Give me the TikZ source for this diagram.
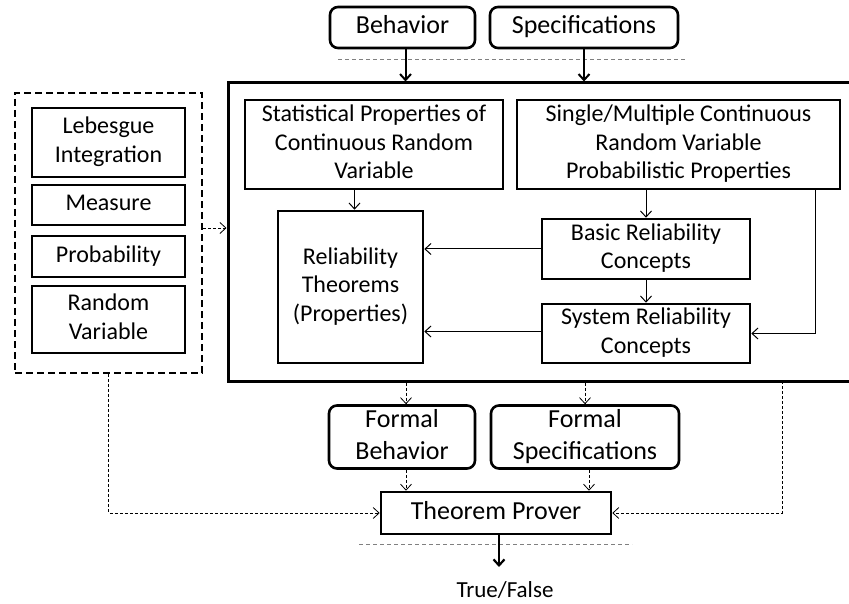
\documentclass[tikz,border=0pt]{standalone}
\usepackage{fontspec}
\setmainfont{Carlito}
\usetikzlibrary{arrows.meta}

\begin{document}
\begin{tikzpicture}[x=1pt, y=-1pt, >={Straight Barb[length=6pt,width=11pt]},
    blk/.style={draw, line width=2.6pt, align=center, inner sep=0pt, font=\fontsize{24}{28.5}\selectfont},
    rblk/.style={blk, rounded corners=8pt, font=\fontsize{26}{31.5}\selectfont},
    dsh/.style={line width=0.8pt, dash pattern=on 3pt off 2pt},
    sep/.style={gray, line width=1pt, dash pattern=on 4pt off 3pt}]
    \useasboundingbox (0,0) rectangle (849,604);

    % 输入
    \node[rblk, minimum width=145pt, minimum height=41pt] (beh) at (402.5,27.5) {\strut Behavior};
    \node[rblk, minimum width=188pt, minimum height=41pt] (spec) at (584,27.5) {\strut Specifications};
    \draw[sep] (338,60) -- (687,60);

    % 大框
    \node[draw, line width=3pt, minimum width=624pt, minimum height=298pt, inner sep=0pt] (main) at (540,232) {};

    % 左侧虚线框
    \node[draw, line width=2.6pt, dash pattern=on 7pt off 4pt, minimum width=187pt, minimum height=280pt] (lib) at (108.5,233) {};
    \node[blk, minimum width=153pt, minimum height=69pt] (leb) at (108.5,142.5) {\strut Lebesgue\\Integration\strut};
    \node[blk, minimum width=153pt, minimum height=40pt] (meas) at (108.5,205) {\strut Measure};
    \node[blk, minimum width=153pt, minimum height=41pt] (prob) at (108.5,256.5) {\strut Probability};
    \node[blk, minimum width=153pt, minimum height=67pt] (rv) at (108.5,319.5) {\strut Random\\Variable\strut};

    % 大框内部
    \node[blk, minimum width=258pt, minimum height=89pt] (stat) at (374,144.5) {\strut Statistical Properties of\\Continuous Random\\Variable\strut};
    \node[blk, minimum width=323pt, minimum height=89pt] (single) at (678.5,144.5) {\strut Single/Multiple Continuous\\Random Variable\\Probabilistic Properties\strut};
    \node[blk, minimum width=145pt, minimum height=152pt] (rt) at (350.5,287) {\strut Reliability\\Theorems\\(Properties)\strut};
    \node[blk, minimum width=208pt, minimum height=60pt] (basic) at (646,249) {\strut Basic Reliability\\Concepts\strut};
    \node[blk, minimum width=208pt, minimum height=59pt] (sys) at (646,333.5) {\strut System Reliability\\Concepts\strut};

    % 输出
    \node[rblk, minimum width=146pt, minimum height=60pt] (fbeh) at (402,437) {\strut Formal\\Behavior\strut};
    \node[rblk, minimum width=188pt, minimum height=60pt] (fspec) at (585,437) {\strut Formal\\Specifications\strut};
    \node[blk, minimum width=230pt, minimum height=42pt, font=\fontsize{26}{31.5}\selectfont] (tp) at (496,513) {\strut Theorem Prover};
    \node[font=\fontsize{23}{28}\selectfont, inner sep=0pt] (tf) at (505,590) {True/False};
    \draw[sep] (359,544) -- (632,544);

    % 连线
    \draw[->, line width=2pt] ([xshift=3pt]beh.south) -- ([xshift=3pt]beh.south |- main.north);
    \draw[->, line width=2pt] (spec.south) -- (spec.south |- main.north);
    \draw[->, dsh] ([yshift=5pt]lib.east) -- ([yshift=5pt]lib.east -| main.west);
    \draw[->, line width=1pt] ([xshift=4pt]rt.north |- stat.south) -- ([xshift=4pt]rt.north);
    \draw[->, line width=1pt] (basic.north |- single.south) -- (basic.north);
    \draw[->, line width=1pt] (basic.west) -- (basic.west -| rt.east);
    \draw[->, line width=1pt] (basic.south) -- (sys.north);
    \draw[->, line width=1pt] ([yshift=2pt]sys.west) -- ([yshift=2pt]sys.west -| rt.east);
    \draw[->, line width=1pt] ([xshift=-26pt]single.south east) |- (sys.east);

    \draw[->, dsh] ([xshift=4pt]fbeh.north |- main.south) -- ([xshift=4pt]fbeh.north);
    \draw[->, dsh] (fspec.north |- main.south) -- (fspec.north);
    \draw[->, dsh] ([xshift=4pt]fbeh.south) -- ([xshift=4pt]fbeh.south |- tp.north);
    \draw[->, dsh] ([xshift=4pt]fspec.south) -- ([xshift=4pt]fspec.south |- tp.north);
    \coordinate (rdrop) at (782,381);
    \draw[->, dsh] (lib.south) |- (tp.west);
    \draw[->, dsh] (rdrop) |- (tp.east);
    \draw[->, line width=2.2pt] ([xshift=3pt]tp.south) -- ([xshift=3pt]tp.south |- 0,567);
\end{tikzpicture}
\end{document}
